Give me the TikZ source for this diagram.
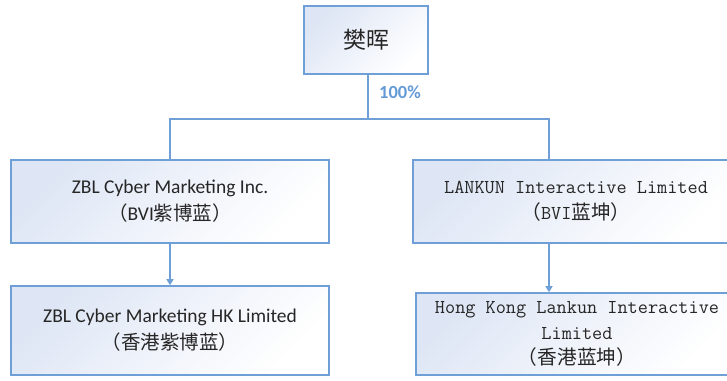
\documentclass[tikz,border=0pt]{standalone}
\usepackage{fontspec}
\setmainfont{Carlito}
\newfontfamily\cjk{Noto Sans CJK SC}
\usetikzlibrary{arrows.meta}
\definecolor{edgec}{RGB}{110,160,215}
\definecolor{fillc}{RGB}{222,230,245}
\definecolor{pctc}{RGB}{100,155,215}
\tikzset{
  box/.style={draw=edgec, line width=1.6pt, top color=fillc, bottom color=white, shading angle=45, align=center, inner sep=0pt, text=black!85},
  conn/.style={draw=edgec, line width=1.6pt},
  arr/.style={conn, -{Triangle[width=7pt,length=6pt]}},
  lat/.style={font=\fontsize{19.5}{27}\selectfont},
  mon/.style={font=\ttfamily\fontsize{19.7}{25.5}\selectfont}
}
\begin{document}
\begin{tikzpicture}[x=1pt,y=1pt]
\useasboundingbox (0,0) rectangle (727,380);
\clip (0,0) rectangle (727,380);
\node[box, minimum width=124pt, minimum height=68pt, font=\cjk\fontsize{23}{28}\selectfont] (t) at (366,340) {樊晖};
\node[box, lat, minimum width=318pt, minimum height=83pt] (a) at (170,178.5) {ZBL Cyber Marketing Inc.\\{\cjk （}BVI{\cjk 紫博蓝）}};
\node[box, lat, minimum width=318pt, minimum height=89pt] (c) at (170,49.5) {ZBL Cyber Marketing HK Limited\\{\cjk （香港紫博蓝）}};
\node[box, mon, minimum width=326pt, minimum height=83pt] (b) at (576,178.5) {LANKUN Interactive Limited\\{\cjk （}BVI{\cjk 蓝坤）}};
\node[box, mon, minimum width=322pt, minimum height=82pt] (d) at (577,46) {Hong Kong Lankun Interactive\\Limited\\{\cjk （香港蓝坤）}};
\coordinate (j) at (368,261);
\coordinate (bx) at (549,261);
\node[text=pctc, font=\bfseries\fontsize{18.5}{20}\selectfont, anchor=west, inner sep=0pt] (p) at (379,288) {100\%};
\draw[conn] (t.south -| j) -- (j) -| (a.north);
\draw[conn] (j) -- (bx) -- (bx |- b.north);
\draw[arr] (a.south) -- (c.north);
\draw[arr] (b.south -| bx) -- (d.north -| bx);
\end{tikzpicture}
\end{document}
